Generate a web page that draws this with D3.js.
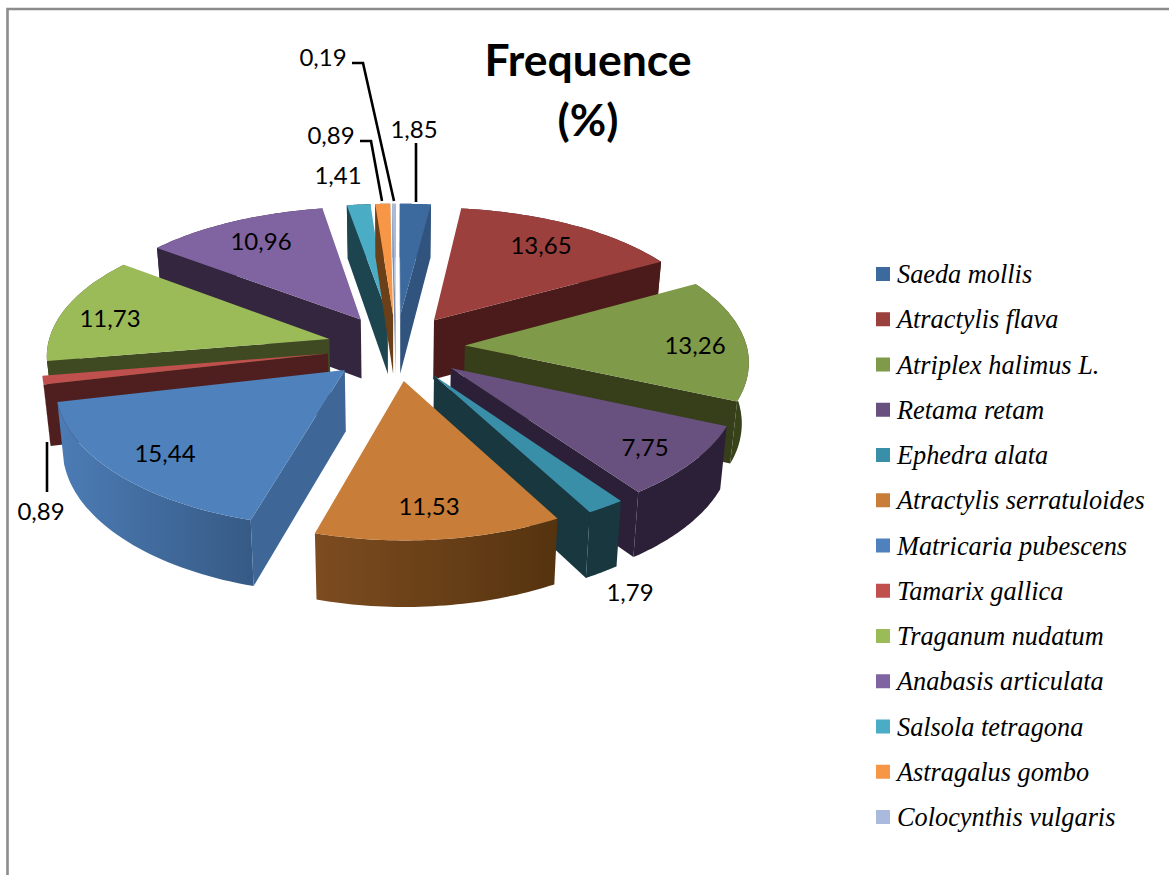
<!DOCTYPE html>
<html>
<head>
<meta charset="utf-8">
<style>html,body{margin:0;padding:0;background:#fff;overflow:hidden}svg{display:block}</style>
<script src="https://cdn.jsdelivr.net/npm/d3@7/dist/d3.min.js"></script>
</head>
<body>
<div id="chart"></div>
<script>
// Species and their share of the flora
const species = ["Saeda mollis","Atractylis flava","Atriplex halimus L.","Retama retam","Ephedra alata","Atractylis serratuloides","Matricaria pubescens","Tamarix gallica","Traganum nudatum","Anabasis articulata","Salsola tetragona","Astragalus gombo","Colocynthis vulgaris"];
const frequence = [1.85,13.65,13.26,7.75,1.79,11.53,15.44,0.89,11.73,10.96,1.41,0.89,0.19];
const valueLabels = ["1,85","13,65","13,26","7,75","1,79","11,53","15,44","0,89","11,73","10,96","1,41","0,89","0,19"];

// Face colours per species
const topColors = ["#3d6a9e","#9c403d","#7f9a48","#68507f","#3a8fa8","#c87d38","#4f81bd","#c0504d","#9bbb59","#8064a2","#4bacc6","#f79646","#aabadc"];
const sideColors = ["#31547f","#4a1b1a","#363e1a","#2b2038","#18373f","#55330f","#3e6797","#4f1f1f","#3f4a22","#352640","#1d4550","#6b4018","#8090b0"];
const rimLight = ["#31547f","#4a1b1a","#3d4a1e","#2b2038","#18373f","#7d4c20","#4c7cb6","#4f1f1f","#3f4a22","#352640","#1d4550","#6b4018","#8090b0"];
const rimDark  = ["#31547f","#4a1b1a","#36401a","#2b2038","#18373f","#55330f","#365a85","#4f1f1f","#3f4a22","#352640","#1d4550","#6b4018","#8090b0"];

// Slices are painted from the back of the pie to the front
const paintOrder = [0,10,11,12,9,1,8,2,7,3,6,4,5];

const W = 1169, H = 875;
const svg = d3.select("#chart").append("svg").attr("width", W).attr("height", H);
const defs = svg.append("defs");

// Chart frame, only its top and left sides fall inside the page
svg.append("path").attr("d", `M7.5 ${H}V9H${W}`).attr("fill","none").attr("stroke","#8c8c8c").attr("stroke-width",2.6);

// Tilted, perspective view of the pie plane
const view = {cx:396, cy:347, radius:282, explode:69, tilt:0.48, perspX:0.105, perspY:0.12};
const depthHeight = d3.scaleLinear().domain([-340,320]).range([54,66]);
function project(x, y) {
  const sx = 1 + view.perspX * y / view.radius;
  const sy = 1 + view.perspY * y / view.radius;
  return [view.cx + x * sx, view.cy + y * view.tilt * sy];
}
function lower(p, y) {
  return [p[0] - (p[0] - view.cx) * 0.02, p[1] + depthHeight(y)];
}

const arcs = d3.pie().sort(null).value(d => d)(frequence);
const pathOf = pts => "M" + pts.map(p => p[0].toFixed(1) + " " + p[1].toFixed(1)).join("L") + "Z";
const signedArea = pts => d3.polygonArea(pts);

const pieLayer = svg.append("g");
paintOrder.forEach(i => {
  const a = arcs[i];
  const mid = (a.startAngle + a.endAngle) / 2;
  const ox = view.explode * Math.sin(mid), oy = -view.explode * Math.cos(mid);
  const steps = d3.range(0, 41).map(k => a.startAngle + (a.endAngle - a.startAngle) * k / 40);
  const rim3d = steps.map(t => [ox + view.radius * Math.sin(t), oy - view.radius * Math.cos(t)]);
  const rimTop = rim3d.map(p => project(p[0], p[1]));
  const rimBottom = rim3d.map((p, k) => lower(rimTop[k], p[1]));
  const apexTop = project(ox, oy);
  const apexBottom = lower(apexTop, oy);

  const gid = "rim" + i;
  const g = defs.append("linearGradient").attr("id", gid);
  g.append("stop").attr("offset","0").attr("stop-color", rimLight[i]);
  g.append("stop").attr("offset","1").attr("stop-color", rimDark[i]);

  // Outer rim
  pieLayer.append("path").attr("d", pathOf(rimTop.concat(rimBottom.slice().reverse()))).attr("fill", `url(#${gid})`);

  // Radial walls, kept only when they face the viewer
  const startWall = [apexTop, rimTop[0], rimBottom[0], apexBottom];
  const endWall = [apexTop, rimTop[40], rimBottom[40], apexBottom];
  if (signedArea(startWall) > 0) pieLayer.append("path").attr("d", pathOf(startWall)).attr("fill", sideColors[i]);
  if (signedArea(endWall) < 0) pieLayer.append("path").attr("d", pathOf(endWall)).attr("fill", sideColors[i]);

  // Top face
  pieLayer.append("path").attr("d", pathOf([apexTop].concat(rimTop))).attr("fill", topColors[i]);
});

// Value labels
const labelFont = "Lato, 'Open Sans', sans-serif";
const labelAt = [[414,128],[541,244],[695,344],[645,446],[630,591],[429,505],[165,452],[41,510],[110,317],[261,240],[338,174],[331,134],[323,56]];
svg.append("g").selectAll("text").data(valueLabels).join("text")
  .attr("x",(d,i)=>labelAt[i][0]).attr("y",(d,i)=>labelAt[i][1])
  .attr("text-anchor","middle").attr("dominant-baseline","central")
  .attr("font-family",labelFont).attr("font-size",24).attr("fill","#000").text(d=>d);

// Leader lines for the labels set apart from their slices
const leaders = [[[416,143],[416,202]],[[360,141],[371,141],[382,201]],[[352,63],[363,63],[394,201]],[[47,442],[47,492]]];
svg.append("g").selectAll("path").data(leaders).join("path")
  .attr("d",d3.line()).attr("fill","none").attr("stroke","#000").attr("stroke-width",2.6);

// Title
const title = svg.append("text").attr("text-anchor","middle").attr("font-family",labelFont)
  .attr("font-weight",700).attr("font-size",44.5).attr("fill","#000");
title.append("tspan").attr("x",588).attr("y",76).text("Frequence");
title.append("tspan").attr("x",588).attr("y",136).text("(%)");

// Legend
const legendY = d3.scalePoint().domain(d3.range(species.length)).range([274,817]);
const legend = svg.append("g").selectAll("g").data(species).join("g")
  .attr("transform",(d,i)=>`translate(0,${legendY(i)})`);
legend.append("rect").attr("x",876).attr("y",-7).attr("width",14).attr("height",14).attr("fill",(d,i)=>topColors[i]);
legend.append("text").attr("x",897).attr("y",9).attr("font-family","'Liberation Serif', serif")
  .attr("font-style","italic").attr("font-size",26.3).attr("fill","#000").text(d=>d);
</script>
</body>
</html>
